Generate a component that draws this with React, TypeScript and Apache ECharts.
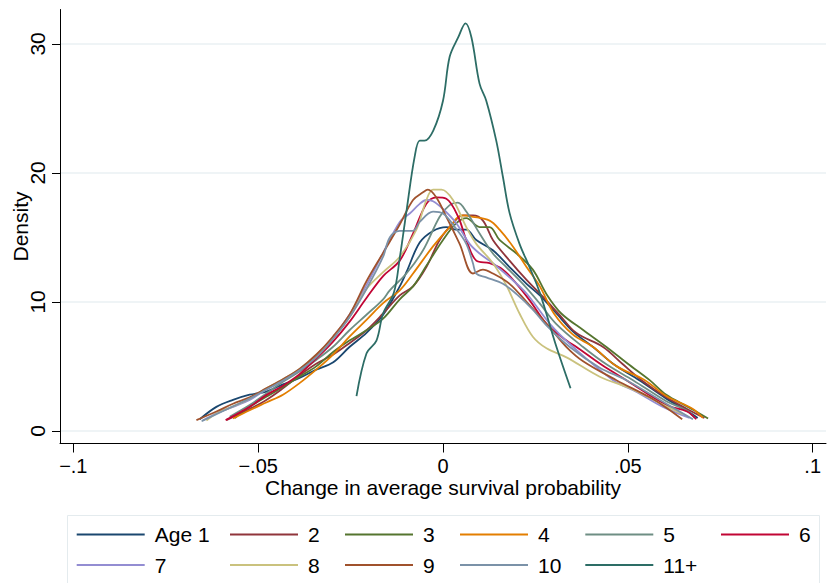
import React, { useEffect, useRef } from "react";
import * as echarts from "echarts";

const seriesNames = ["Age 1", "2", "3", "4", "5", "6", "7", "8", "9", "10", "11+"];
const seriesColors = ["#1a476f", "#90353b", "#55752f", "#e37e00", "#6e8e84", "#c10534", "#938dd2", "#cac27e", "#a0522d", "#7b92a8", "#2d6d66"];

const xTickValues = [-0.1, -0.05, 0, 0.05, 0.1];
const xTickLabels = ["\u2212.1", "\u2212.05", "0", ".05", ".1"];
const yTickValues = [0, 10, 20, 30];

const age1 = [[-0.0658,0.9],[-0.0613,1.86],[-0.0568,2.4],[-0.0523,2.8],[-0.0478,3.05],[-0.0433,3.6],[-0.0388,4.1],[-0.0343,4.75],[-0.0298,5.3],[-0.0253,6.5],[-0.0207,7.6],[-0.0162,9.0],[-0.0117,11.2],[-0.0099,12.3],[-0.0063,14.6],[-0.0027,15.5],[0.0009,15.8],[0.0036,15.6],[0.0063,15.6],[0.009,14.8],[0.0135,14.0],[0.018,12.7],[0.0226,11.4],[0.0262,10.5],[0.0307,9.1],[0.0352,7.7],[0.0406,6.5],[0.046,5.2],[0.0532,3.9],[0.0604,2.5],[0.0658,1.6],[0.0689,1.0]];
const age2 = [[-0.0586,0.83],[-0.0523,1.7],[-0.0478,2.4],[-0.0433,3.3],[-0.0388,4.3],[-0.0343,5.2],[-0.0298,5.9],[-0.0253,6.8],[-0.0207,7.8],[-0.0162,9.1],[-0.0117,10.5],[-0.0081,11.2],[-0.0045,12.7],[-0.0009,14.8],[0.0027,16.1],[0.0054,16.7],[0.0081,16.7],[0.0108,16.3],[0.0135,14.8],[0.018,13.2],[0.0226,11.7],[0.027,10.4],[0.0315,9.0],[0.036,7.6],[0.0433,6.5],[0.0485,5.2],[0.0537,3.93],[0.0604,2.6],[0.066,1.7],[0.0707,1.0]];
const age3 = [[-0.0563,1.0],[-0.0523,1.86],[-0.0478,2.64],[-0.0433,3.4],[-0.0388,4.2],[-0.0343,5.0],[-0.0298,6.1],[-0.0253,7.0],[-0.0207,7.8],[-0.0162,8.7],[-0.0117,10.2],[-0.0081,11.2],[-0.0045,12.8],[0,14.8],[0.0036,16.1],[0.0063,16.5],[0.0099,15.8],[0.0126,15.8],[0.0153,14.8],[0.0199,13.75],[0.0243,12.5],[0.028,10.6],[0.032,9.1],[0.038,7.8],[0.0442,6.5],[0.05,5.2],[0.0559,3.93],[0.0604,2.8],[0.066,1.9],[0.0717,0.96]];
const age4 = [[-0.0568,0.96],[-0.0523,1.6],[-0.0478,2.2],[-0.0433,2.8],[-0.0388,3.7],[-0.0343,4.75],[-0.0298,5.9],[-0.0253,7.3],[-0.0207,8.6],[-0.0162,9.9],[-0.0117,10.9],[-0.0081,12.2],[-0.0027,14.3],[0.0018,15.8],[0.005,16.7],[0.0081,16.6],[0.0126,16.3],[0.0153,15.6],[0.0189,14.3],[0.0226,12.7],[0.0262,11.2],[0.03,9.1],[0.035,7.5],[0.0406,6.5],[0.047,5.0],[0.0546,3.93],[0.0604,2.7],[0.0676,1.7],[0.0703,1.0]];
const age5 = [[-0.0577,1.1],[-0.0523,2.0],[-0.0478,2.9],[-0.0433,3.8],[-0.0388,4.6],[-0.0343,5.5],[-0.0298,6.5],[-0.0253,7.8],[-0.0207,9.0],[-0.0162,10.2],[-0.0144,10.9],[-0.0099,12.2],[-0.0054,14.0],[-0.0009,16.6],[0.0018,17.5],[0.004,17.7],[0.0063,17.0],[0.0099,15.3],[0.0135,13.75],[0.0171,12.7],[0.0216,11.4],[0.0261,9.9],[0.0306,8.3],[0.0379,6.5],[0.0445,5.1],[0.0514,3.93],[0.0604,2.3],[0.0658,1.6],[0.0681,1.0]];
const age6 = [[-0.0588,0.83],[-0.0523,1.86],[-0.0478,2.77],[-0.0433,3.5],[-0.0388,4.4],[-0.0343,5.6],[-0.0298,6.9],[-0.0253,8.45],[-0.0207,10.3],[-0.0162,12.0],[-0.0117,13.2],[-0.0081,15.3],[-0.0045,17.6],[-0.0018,18.1],[0.0009,18.0],[0.0041,16.6],[0.0063,14.8],[0.009,13.2],[0.0126,13.0],[0.0162,12.5],[0.0199,11.4],[0.0235,10.1],[0.028,8.3],[0.0334,7.0],[0.0361,6.5],[0.043,5.1],[0.0496,3.93],[0.0604,2.0],[0.066,1.5],[0.0685,0.9]];
const age7 = [[-0.065,0.8],[-0.0613,1.35],[-0.0568,1.86],[-0.0523,2.4],[-0.0478,3.2],[-0.0433,3.9],[-0.0388,4.75],[-0.0343,5.8],[-0.0298,7.2],[-0.0253,9.0],[-0.0207,11.3],[-0.0162,13.8],[-0.0117,16.2],[-0.009,16.85],[-0.0063,17.6],[-0.0045,17.9],[-0.0027,17.8],[0,17.2],[0.0036,16.1],[0.0072,14.5],[0.0099,13.75],[0.0135,13.0],[0.018,11.9],[0.0226,10.65],[0.0289,8.3],[0.0352,6.5],[0.046,3.93],[0.0525,3.0],[0.0595,1.86],[0.0667,1.0]];
const age8 = [[-0.064,0.8],[-0.0613,1.35],[-0.0568,1.9],[-0.0523,2.5],[-0.0478,3.3],[-0.0433,4.0],[-0.0388,4.8],[-0.0343,5.9],[-0.0298,7.2],[-0.0253,8.8],[-0.0207,11.0],[-0.0162,12.3],[-0.0117,13.5],[-0.0072,15.6],[-0.0045,17.9],[-0.0027,18.7],[-0.0004,18.7],[0.0027,17.9],[0.0063,15.8],[0.009,14.5],[0.0135,13.0],[0.0171,11.3],[0.0207,9.1],[0.0243,7.3],[0.028,6.4],[0.0334,5.7],[0.0424,4.2],[0.0514,3.2],[0.0604,1.9],[0.0649,1.3]];
const age9 = [[-0.0667,0.83],[-0.0613,1.5],[-0.0568,2.1],[-0.0523,2.6],[-0.0478,3.3],[-0.0433,4.0],[-0.0388,4.8],[-0.0343,5.9],[-0.0298,7.3],[-0.0253,9.0],[-0.0207,11.6],[-0.0162,13.8],[-0.0117,16.0],[-0.0081,17.9],[-0.0054,18.5],[-0.0041,18.7],[-0.0018,18.1],[0.0009,16.6],[0.0045,14.5],[0.0081,12.2],[0.0108,12.5],[0.0135,12.2],[0.018,11.4],[0.0226,10.0],[0.0289,8.0],[0.0334,6.5],[0.0379,5.4],[0.0469,3.93],[0.0559,2.6],[0.0604,1.8],[0.0647,0.9]];
const age10 = [[-0.0653,0.75],[-0.0613,1.3],[-0.0568,1.9],[-0.0523,2.5],[-0.0478,3.2],[-0.0433,3.9],[-0.0388,4.7],[-0.0343,5.7],[-0.0298,7.1],[-0.0253,8.8],[-0.0207,11.0],[-0.0162,13.5],[-0.0144,15.0],[-0.0117,15.5],[-0.0082,15.5],[-0.0063,16.2],[-0.0027,17.0],[0,16.85],[0.0032,15.8],[0.0063,14.5],[0.0081,13.0],[0.009,12.2],[0.0117,11.9],[0.0162,11.4],[0.0199,10.6],[0.0243,9.4],[0.0279,8.2],[0.0343,6.5],[0.0424,4.9],[0.0496,3.93],[0.0604,2.1],[0.0676,0.9]];
const age11 = [[-0.0234,2.7],[-0.0207,6.0],[-0.018,7.0],[-0.0162,9.1],[-0.0133,10.7],[-0.0117,13.4],[-0.0098,17.2],[-0.0077,21.2],[-0.0063,22.5],[-0.005,22.5],[-0.0026,23.3],[0,25.6],[0.0018,29.0],[0.0041,30.5],[0.0061,31.6],[0.0077,30.5],[0.0099,26.9],[0.0117,25.6],[0.0144,22.5],[0.0162,19.7],[0.018,16.9],[0.0207,14.5],[0.0234,12.7],[0.0262,10.7],[0.0307,6.5],[0.0345,3.3]];

const seriesData = [age1, age2, age3, age4, age5, age6, age7, age8, age9, age10, age11];

const FONT = "'Liberation Sans', Arial, Helvetica, sans-serif";

export default function App() {
  const ref = useRef<HTMLDivElement>(null);
  useEffect(() => {
    if (!ref.current) return;
    const chart = echarts.init(ref.current, undefined, { renderer: "svg" });
    const legendCols = [76.7, 230, 345, 460, 585.3, 721];
    const legendRows = [524, 554.5];
    const legends = seriesNames.map((name, i) => ({
      data: [name],
      left: legendCols[i % 6],
      top: legendRows[Math.floor(i / 6)],
      orient: "horizontal",
      padding: 0,
      itemWidth: 73,
      itemHeight: 2,
      icon: "path://M0,0h68v2h-68z M72.99,0h0.01v0.01h-0.01z",
      textStyle: { fontSize: 21, color: "#000", fontFamily: FONT },
      selectedMode: false,
    }));
    chart.setOption({
      animation: false,
      backgroundColor: "#fff",
      textStyle: { fontFamily: FONT },
      grid: { left: 60, right: 1, top: 9.5, bottom: 139.5, containLabel: false, outerBoundsMode: "none" },
      legend: legends,
      graphic: [
        {
          type: "rect",
          shape: { x: 67.5, y: 515.5, width: 752, height: 80 },
          style: { fill: "none", stroke: "#e4ebee", lineWidth: 1 },
          silent: true,
        },
      ],
      xAxis: {
        type: "value",
        min: -0.1036,
        max: 0.1036,
        name: "Change in average survival probability",
        nameLocation: "middle",
        nameGap: 34,
        nameMoveOverlap: false,
        nameTextStyle: { fontSize: 21, lineHeight: 20, color: "#000", fontFamily: FONT },
        axisLine: { show: true, onZero: false, lineStyle: { color: "#000", width: 1 } },
        axisTick: { show: true, length: 9, customValues: xTickValues, lineStyle: { color: "#000" } },
        axisLabel: {
          customValues: xTickValues,
          margin: 13,
          fontSize: 20,
          lineHeight: 18,
          color: "#000",
          fontFamily: FONT,
          formatter: (v: number) => {
            const idx = xTickValues.findIndex((t) => Math.abs(t - v) < 1e-9);
            return idx >= 0 ? xTickLabels[idx] : "";
          },
        },
        splitLine: { show: false },
      },
      yAxis: {
        type: "value",
        min: -0.98,
        max: 32.67,
        name: "Density",
        nameLocation: "middle",
        nameGap: 29,
        nameMoveOverlap: false,
        nameTextStyle: { fontSize: 21, color: "#000", fontFamily: FONT },
        axisLine: { show: true, onZero: false, lineStyle: { color: "#000", width: 1 } },
        axisTick: { show: true, length: 8, customValues: yTickValues, lineStyle: { color: "#000" } },
        axisLabel: {
          customValues: yTickValues,
          rotate: 90,
          margin: 12,
          fontSize: 21,
          color: "#000",
          fontFamily: FONT,
          formatter: (v: number) => String(v),
        },
        splitLine: { show: true, lineStyle: { color: "#eaf0f3", width: 1.5 } },
      },
      series: seriesData.map((d, i) => ({
        name: seriesNames[i],
        type: "line",
        data: d,
        showSymbol: false,
        symbol: "none",
        smooth: 0.35,
        color: seriesColors[i],
        lineStyle: { color: seriesColors[i], width: 1.8 },
        itemStyle: { color: seriesColors[i] },
        z: 2 + i,
      })),
    });
    return () => chart.dispose();
  }, []);
  return (
    <div
      ref={ref}
      style={{ position: "absolute", left: 0, top: 0, width: 827, height: 583 }}
    />
  );
}
